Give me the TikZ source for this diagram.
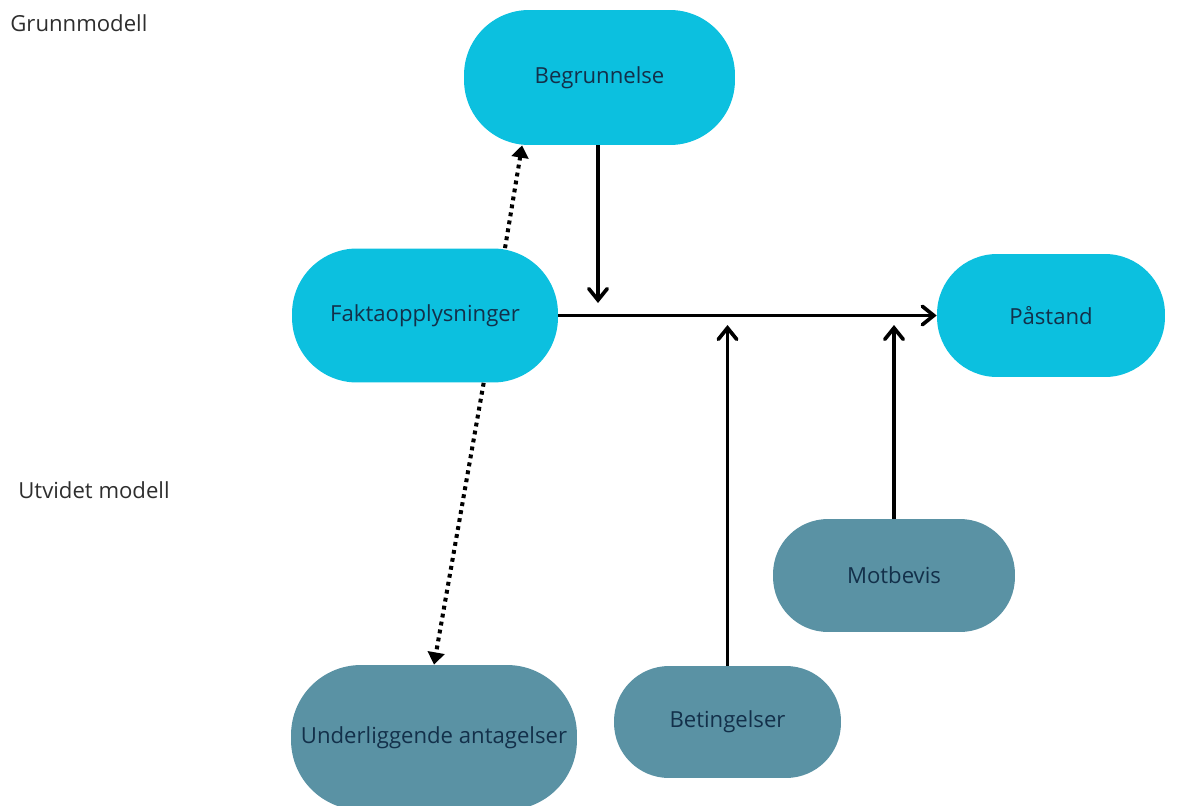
\documentclass[tikz,border=0pt]{standalone}
\usepackage{fontspec}
\setmainfont{Open Sans}
\usetikzlibrary{arrows.meta,calc}
\definecolor{grunncol}{HTML}{0CC0DF}
\definecolor{utvidcol}{HTML}{5A92A4}
\definecolor{textcol}{HTML}{13304A}
\definecolor{labelcol}{HTML}{2E2E2E}

\begin{document}
\begin{tikzpicture}[x=0.02cm,y=-0.02cm]
\tikzset{box/.style = {rectangle, rounded corners=#1, inner sep=0pt, text=textcol, font=\fontsize{12.6}{15}\selectfont}}
\tikzset{grunn/.style = {box=#1, fill=grunncol}}
\tikzset{utvid/.style = {box=#1, fill=utvidcol}}
\tikzset{pil/.style = {line width=2.1pt, -{Straight Barb[length=6.5pt,width=10.5pt,line cap=round]}}}
\tikzset{prikk/.style = {line width=2.3pt, dash pattern=on 2.2pt off 2.4pt, -{Triangle[length=7pt,width=9.5pt]}}}
\tikzset{modell/.style = {anchor=west, inner sep=0pt, text=labelcol, font=\fontsize{12.6}{15}\selectfont}}

\useasboundingbox (0,0) rectangle (1177,805);

\node[modell] (grunnlabel) at (10,23) {Grunnmodell};
\node[modell] (utvidlabel) at (18,490) {Utvidet modell};

% grunnmodell
\node[grunn=1.3cm, minimum width=5.42cm, minimum height=2.70cm] (begr) at (599.5,77.5) {Begrunnelse};
\node[grunn=1.3cm, minimum width=5.32cm, minimum height=2.68cm] (fakta) at (425,315.5) {Faktaopplysninger};
\node[grunn=1.2cm, minimum width=4.56cm, minimum height=2.46cm] (pastand) at (1051,315.5) {Påstand};

% utvidet modell
\node[utvid=1.1cm, minimum width=4.84cm, minimum height=2.26cm] (motbevis) at (894,575.5) {Motbevis};
\node[utvid=1.1cm, minimum width=4.54cm, minimum height=2.24cm] (beting) at (727.5,722) {Betingelser};
\node[utvid=1.4cm, minimum width=5.72cm, minimum height=2.90cm] (under) at (434,737.5) {Underliggende antagelser};

\coordinate (begrend) at (598,303);
\coordinate (betingend) at (727.5,325);
\coordinate (motbevisend) at (894,325);

\draw[pil] (fakta.east) -- (pastand.west);
\draw[pil] (begr.south -| begrend) -- (begrend);
\draw[pil] (beting.north) -- (betingend);
\draw[pil] (motbevis.north) -- (motbevisend);

\draw[prikk] ($(fakta.north)!0.6!(fakta.north east)$) -- ($(begr.south)!0.57!(begr.south west)$);
\draw[prikk] ($(fakta.south)!0.44!(fakta.south east)$) -- (under.north);

\end{tikzpicture}
\end{document}
